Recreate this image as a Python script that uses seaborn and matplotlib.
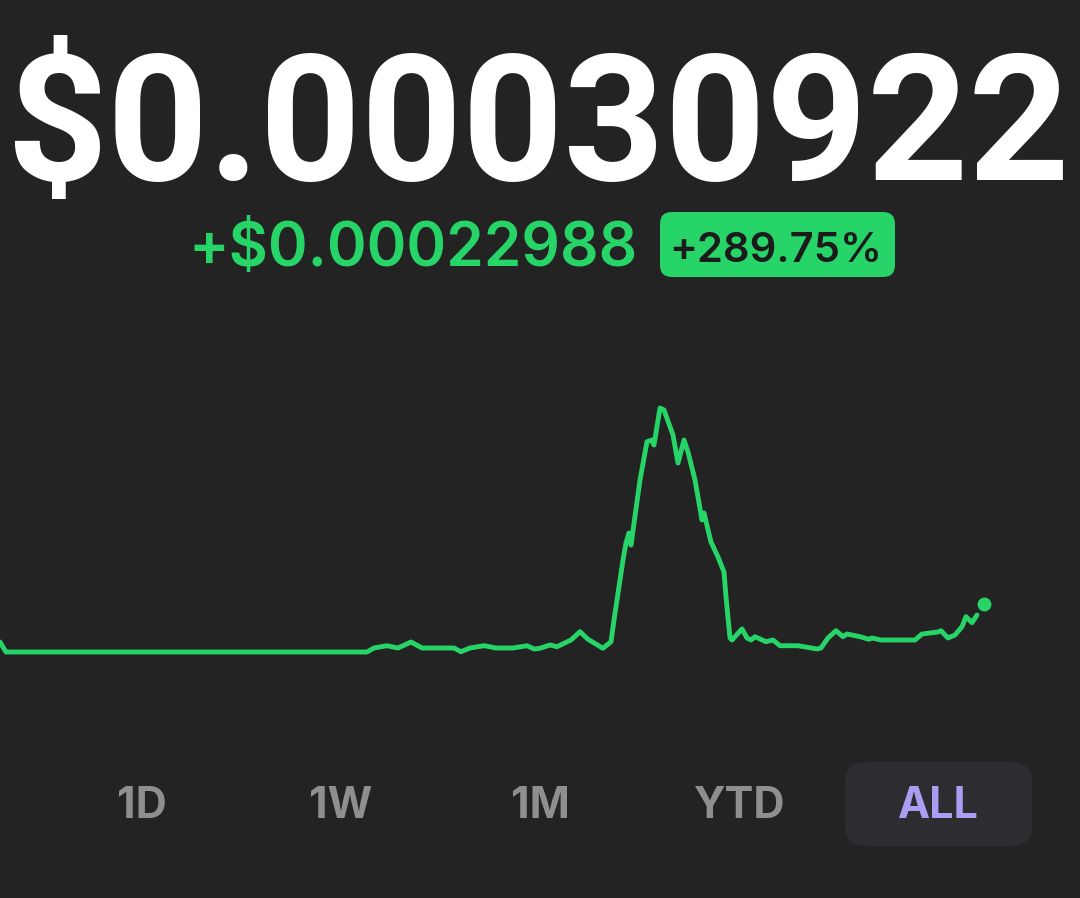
import pandas as pd
import matplotlib.pyplot as plt
import seaborn as sns
from matplotlib.patches import FancyBboxPatch

# price history (x = day index, price in USD millionths)
days = [0, 6, 367, 374, 387, 393, 398, 411, 422, 454, 461, 470, 484, 491, 496, 513, 527, 534,
        540, 550, 557, 571, 580, 588, 603, 611, 614, 623, 626, 629, 631, 640, 647, 652, 654,
        660, 664, 673, 678, 684, 688, 695, 702, 704, 711, 718, 724, 726, 730, 732, 742, 747,
        751, 755, 766, 773, 780, 798, 817, 821, 828, 836, 843, 847, 860, 869, 872, 881, 915,
        922, 938, 941, 948, 955, 962, 966, 972, 977]
prices_micro = [79.3, 18.8, 18.8, 43.0, 56.9, 49.0, 43.0, 79.3, 43.0, 43.0, 20.6, 43.0, 56.9,
                49.0, 43.0, 43.0, 56.9, 37.0, 41.2, 61.2, 50.9, 91.4, 141.6, 95.6, 41.2, 81.1,
                212.4, 575.4, 678.3, 738.8, 666.2, 1059.4, 1291.1, 1301.4, 1271.2, 1495.0,
                1482.9, 1331.7, 1162.3, 1301.4, 1228.8, 1059.4, 817.4, 859.8, 684.3, 593.6,
                502.8, 351.6, 103.5, 91.4, 158.0, 103.5, 91.4, 111.4, 81.1, 91.4, 56.9, 56.9,
                37.0, 43.0, 103.5, 147.7, 111.4, 127.7, 111.4, 95.6, 103.5, 91.4, 91.4, 127.7,
                139.8, 147.7, 103.5, 121.6, 171.9, 232.4, 196.1, 242.7]
last_day = 984
last_price_micro = 309.22

price_now = "$0.00030922"
change_abs = "+$0.00022988"
change_pct = "+289.75%"
ranges = ["1D", "1W", "1M", "YTD", "ALL"]

BG = "#232323"
GREEN = "#27d468"

df = pd.DataFrame({"day": days, "price": prices_micro})

sns.set_theme(style="dark", rc={"axes.facecolor": BG, "figure.facecolor": BG})
plt.rcParams["font.family"] = ["Roboto", "DejaVu Sans"]

fig = plt.figure(figsize=(10.8, 8.98), dpi=100)
W, H = 1080, 898

ax = fig.add_axes([0, 1 - 680 / H, 1, 300 / H])
sns.lineplot(data=df, x="day", y="price", ax=ax, color=GREEN, linewidth=3.5)
ax.lines[0].set_solid_joinstyle("round")
ax.lines[0].set_solid_capstyle("round")
ax.scatter([last_day], [last_price_micro], s=100, color=GREEN, zorder=5, linewidths=0)
ax.set_xlim(0, 1080)
ax.set_ylim(-150.6, 1664.4)
ax.axis("off")

# header
fig.text(538 / W, 1 - 180 / H, price_now, color="white", fontsize=127, fontweight="bold",
         ha="center", va="baseline")
fig.text(188 / W, 1 - 266 / H, change_abs, color=GREEN, fontsize=43.5, fontweight="semibold",
         family=["Inter", "DejaVu Sans"], ha="left", va="baseline")

badge = FancyBboxPatch((6.60, (H - 277) / 100), 2.35, 0.65,
                       boxstyle="round,pad=0,rounding_size=0.12",
                       transform=fig.dpi_scale_trans, facecolor=GREEN, edgecolor="none")
fig.patches.append(badge)
fig.text(776 / W, 1 - 262 / H, change_pct, color="#1b1b1b", fontsize=30, fontweight="semibold",
         family=["Inter", "DejaVu Sans"], ha="center", va="baseline")

# range selector
sel = FancyBboxPatch((8.45, (H - 846) / 100), 1.87, 0.84,
                     boxstyle="round,pad=0,rounding_size=0.2",
                     transform=fig.dpi_scale_trans, facecolor="#2d2d31", edgecolor="none")
fig.patches.append(sel)
centers = [142, 341, 540, 740, 938]
for lab, cx in zip(ranges, centers):
    col = "#ab9df2" if lab == "ALL" else "#8f8f8f"
    fig.text(cx / W, 1 - 818 / H, lab, color=col, fontsize=31, fontweight="bold",
             family=["Inter", "DejaVu Sans"], ha="center", va="baseline")

fig.savefig("out.png", dpi=100, facecolor=BG)
